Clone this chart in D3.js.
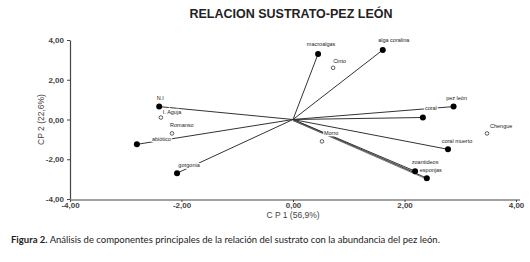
<!DOCTYPE html>
<html><head><meta charset="utf-8">
<script src="https://cdn.jsdelivr.net/npm/d3@7"></script>
<style>body{margin:0;background:#fff}svg{display:block}</style>
</head><body>
<script>
const title = "RELACION SUSTRATO-PEZ LEÓN";
const xLabel = "C P 1 (56,9%)";
const yLabel = "CP 2 (22,6%)";
const tickValues = [-4, -2, 0, 2, 4];
const tickLabels = ["-4,00", "-2,00", "0,00", "2,00", "4,00"];
// variables (vectors from origin, filled dots)
const varNames = ["macroalgas", "alga coralina", "pez león", "coral", "coral muerto", "zoantideos", "esponjas", "N.I", "abiótico", "gorgonia"];
const varX = [0.45, 1.61, 2.88, 2.33, 2.78, 2.19, 2.40, -2.40, -2.80, -2.08];
const varY = [3.30, 3.50, 0.65, 0.10, -1.50, -2.60, -2.95, 0.65, -1.25, -2.70];
// sites (open circles)
const siteNames = ["Cinto", "Chengue", "Morro", "I. Aguja", "Romanso"];
const siteX = [0.72, 3.48, 0.52, -2.37, -2.17];
const siteY = [2.60, -0.70, -1.10, 0.10, -0.70];
const caption = "Análisis de componentes principales de la relación del sustrato con la abundancia del pez león.";

const W = 530, H = 262;
const svg = d3.select("body").append("svg").attr("width", W).attr("height", H);
const x = d3.scaleLinear().domain([-4, 4]).range([70, 516]);
const y = d3.scaleLinear().domain([-4, 4]).range([199, 40]);

svg.append("text").attr("x", 291).attr("y", 18).attr("text-anchor", "middle")
  .attr("font-family", "Liberation Sans, Arial, sans-serif").attr("font-weight", "bold")
  .attr("font-size", 12.5).attr("fill", "#222").text(title);

// axes
const axisColor = "#444";
const xAxis = svg.append("g").attr("transform", `translate(0,${y(-4)+1})`)
  .call(d3.axisBottom(x).tickValues(tickValues).tickFormat((d,i)=>tickLabels[i]).tickSize(2).tickPadding(1).tickSizeOuter(0));
const yAxis = svg.append("g").attr("transform", `translate(${x(-4)},0)`)
  .call(d3.axisLeft(y).tickValues(tickValues).tickFormat((d,i)=>tickLabels[i]).tickSize(3).tickSizeOuter(0));
[xAxis, yAxis].forEach(g => {
  g.select(".domain").attr("stroke", axisColor).attr("stroke-width", 1.2);
  g.selectAll(".tick line").attr("stroke", axisColor);
  g.selectAll("text").attr("font-family", "Liberation Sans, Arial, sans-serif")
    .attr("font-size", 8).attr("font-weight", "bold").attr("fill", "#444");
});
xAxis.selectAll("text").attr("dy", "0.6em");
xAxis.select(".domain").attr("d", `M${x(-4)},0H${x(4)+4}`);

svg.append("text").attr("x", x(0)).attr("y", 218).attr("text-anchor", "middle")
  .attr("font-family", "Liberation Sans, Arial, sans-serif").attr("font-size", 8.5).attr("fill", "#444").text(xLabel);
svg.append("text").attr("transform", `translate(44,${y(0)}) rotate(-90)`).attr("text-anchor", "middle")
  .attr("font-family", "Liberation Sans, Arial, sans-serif").attr("font-size", 8.5).attr("fill", "#444").text(yLabel);

// vectors
const vars = varNames.map((n,i)=>({n, x:varX[i], y:varY[i]}));
const sites = siteNames.map((n,i)=>({n, x:siteX[i], y:siteY[i]}));
svg.append("g").selectAll("line").data(vars).join("line")
  .attr("x1", x(0)).attr("y1", y(0)).attr("x2", d=>x(d.x)).attr("y2", d=>y(d.y))
  .attr("stroke", "#333").attr("stroke-width", 1);
// doubled lines for zoantideos/esponjas
svg.append("g").selectAll("line").data(vars.filter(d=>d.n==="zoantideos"||d.n==="esponjas")).join("line")
  .attr("x1", x(0)).attr("y1", y(0)+1).attr("x2", d=>x(d.x)).attr("y2", d=>y(d.y)+1)
  .attr("stroke", "#555").attr("stroke-width", 0.8);
svg.append("g").selectAll("circle").data(vars).join("circle")
  .attr("cx", d=>x(d.x)).attr("cy", d=>y(d.y)).attr("r", 3).attr("fill", "#000");
svg.append("g").selectAll("circle").data(sites).join("circle")
  .attr("cx", d=>x(d.x)).attr("cy", d=>y(d.y)).attr("r", 1.8).attr("fill", "#fff").attr("stroke", "#333").attr("stroke-width", 0.8);

// labels: offsets in px
const labOff = {
  "macroalgas":[3,-8,"middle"], "alga coralina":[11,-8,"middle"], "pez león":[3,-7,"middle"],
  "coral":[8,-8,"middle"], "coral muerto":[9,-6,"middle"], "zoantideos":[10,-7,"middle"],
  "esponjas":[4,-6,"middle"], "N.I":[1,-7,"middle"], "abiótico":[15,-3,"start"], "gorgonia":[12,-6,"middle"],
  "Cinto":[0,-5,"start"], "Chengue":[3,-5,"start"], "Morro":[2,-6,"start"], "I. Aguja":[2,-4,"start"], "Romanso":[-2,-6,"start"]
};
const all = vars.concat(sites);
svg.append("g").selectAll("text").data(all).join("text")
  .attr("x", d=>x(d.x)+labOff[d.n][0]).attr("y", d=>y(d.y)+labOff[d.n][1])
  .attr("text-anchor", d=>labOff[d.n][2])
  .attr("font-family", "Liberation Sans, Arial, sans-serif").attr("font-size", 5.5).attr("fill", "#222")
  .attr("stroke", "#fff").attr("stroke-width", 2.5).attr("paint-order", "stroke")
  .text(d=>d.n);

// caption
const cap = svg.append("text").attr("x", 11).attr("y", 243)
  .attr("font-family", "Lato, 'Open Sans', sans-serif").attr("font-size", 9.5).attr("fill", "#222");
cap.append("tspan").attr("font-weight", "bold").text("Figura 2.");
cap.append("tspan").text(" " + caption);
</script>
</body></html>
